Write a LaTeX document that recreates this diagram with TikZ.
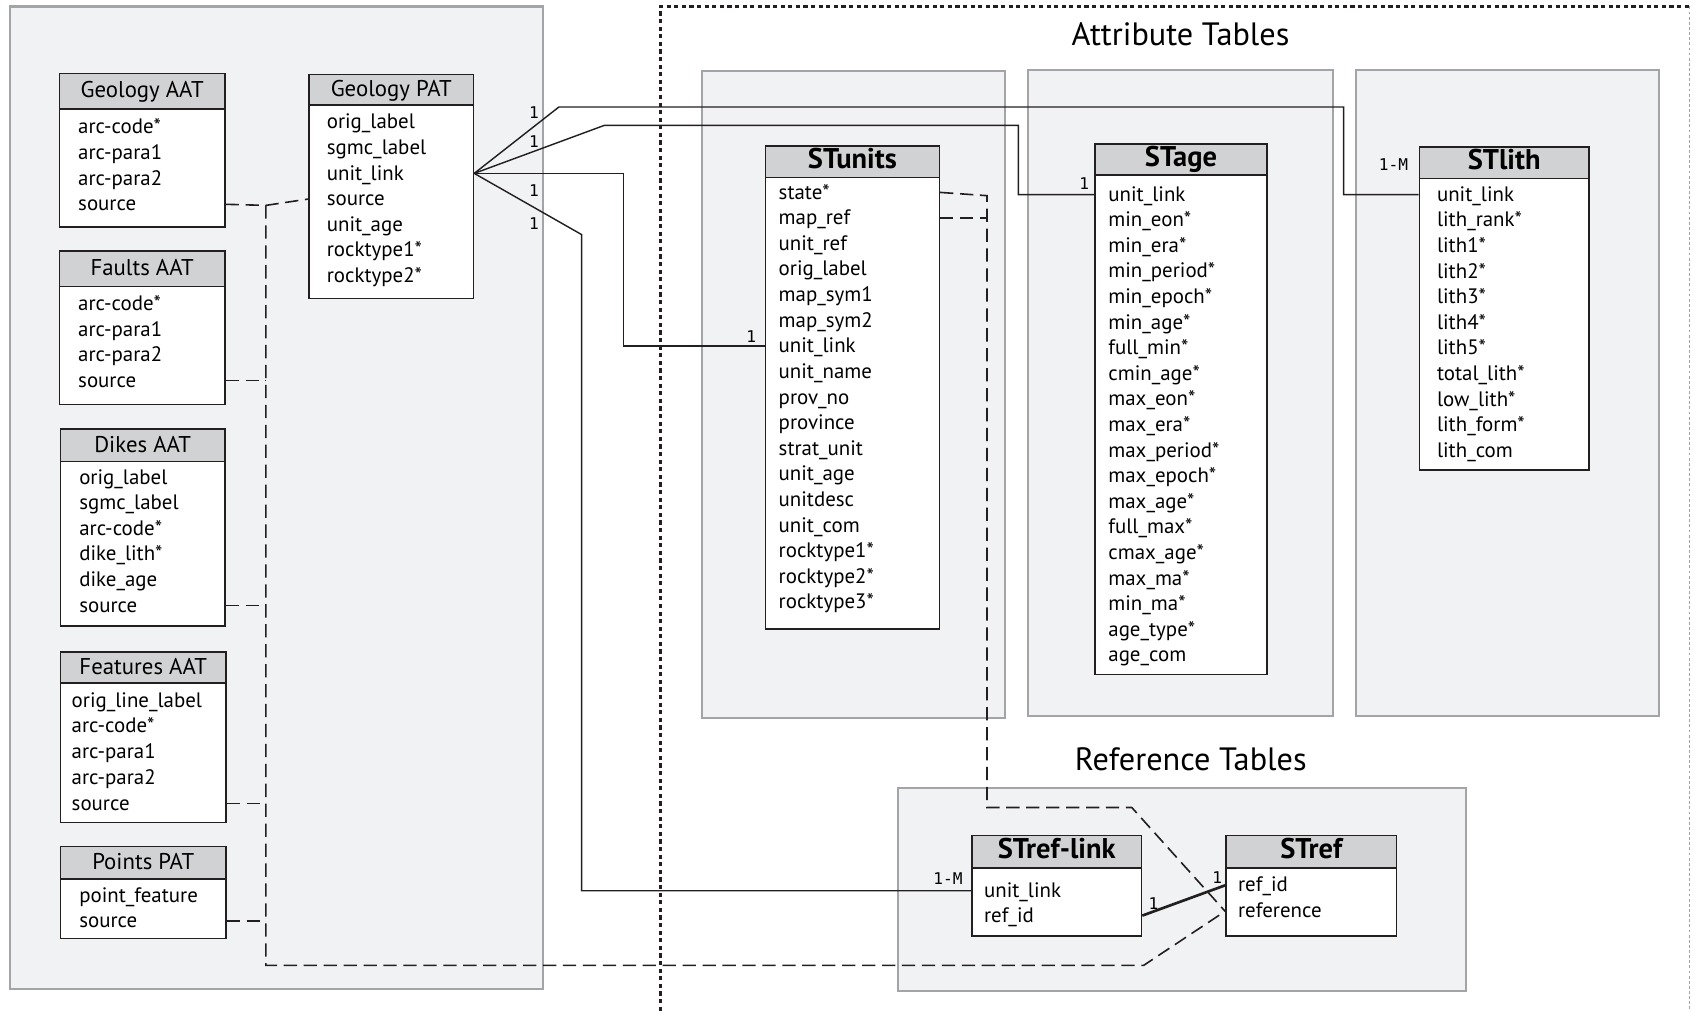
\documentclass[tikz,border=0pt]{standalone}
\usepackage{fontspec}
\setmainfont{PT Sans}
\newfontfamily\cardfont{DejaVu Sans Mono}
\usetikzlibrary{positioning,fit}
\definecolor{panelfill}{RGB}{241,242,244}
\definecolor{panelline}{RGB}{163,164,167}
\definecolor{headfill}{RGB}{209,210,212}
\definecolor{tabline}{RGB}{35,31,32}

\begin{document}
\begin{tikzpicture}[x=0.02cm,y=-0.02cm,
	panel/.style={draw=panelline,fill=panelfill,line width=1.1pt,inner sep=0pt},
	head/.style={draw=tabline,fill=headfill,line width=0.8pt,inner sep=0pt},
	hname/.style={inner sep=0pt,text height=0.7em,text depth=0pt,font=\fontsize{12}{14}\selectfont},
	bname/.style={hname,font=\fontsize{15}{17}\bfseries},
	body/.style={draw=tabline,fill=white,line width=0.8pt,inner sep=0pt},
	field/.style={anchor=west,inner sep=0pt,text height=1.6ex,text depth=.2ex,font=\fontsize{11}{13}\selectfont},
	card/.style={inner sep=0pt,font=\cardfont\fontsize{8.5}{10}\selectfont},
	link/.style={draw=tabline,line width=0.75pt},
	fkey/.style={link,line width=0.85pt,dash pattern=on 7pt off 3.5pt},
	frame/.style={draw=tabline,line width=1.1pt,dash pattern=on 2.2pt off 1.8pt},
	title/.style={inner sep=0pt,font=\fontsize{17}{20}\selectfont}]
	\useasboundingbox (0,0) rectangle (1568,935);

	% panels
	\node[panel,fit={(9,6) (502,915)}] (arcp) {};
	\node[panel,fit={(649,66) (930,664)}] (unitsp) {};
	\node[panel,fit={(951,65) (1233,662)}] (agep) {};
	\node[panel,fit={(1254,65) (1535,662)}] (lithp) {};
	\node[panel,fit={(831,729) (1356,917)}] (refp) {};
	\node[title,above=0.43cm of agep] (attrt) {Attribute Tables};
	\node[title,above=0.29cm of refp,xshift=0.16cm] (reft) {Reference Tables};

	\draw[frame] (611,935) -- (611,6) -- (1563,6);
	\draw[draw=panelline,line width=0.6pt,dash pattern=on 1.5pt off 1.2pt] (1563,6) -- (1563,935);

	% arc/point tables
	\node[head,fit={(55,68) (208,101)},label={[hname]center:Geology AAT}] (gaat) {};
	\node[body,fit={(55,101) (208,210)}] (gaat-b) {};
	\foreach \f [count=\i] in {arc-code*,arc-para1,arc-para2,source}
		\node[field] (gaat-\i) at (72,{117+24*(\i-1)}) {\f};

	\node[head,fit={(286,69) (438,97)},label={[hname]center:Geology PAT}] (gpat) {};
	\node[body,fit={(286,97) (438,276)}] (gpat-b) {};
	\foreach \f [count=\i] in {orig\_label,sgmc\_label,unit\_link,source,unit\_age,rocktype1*,rocktype2*}
		\node[field] (gpat-\i) at (302,{113+23.7*(\i-1)}) {\f};

	\node[head,fit={(55,232) (208,265)},label={[hname]center:Faults AAT}] (faat) {};
	\node[body,fit={(55,265) (208,374)}] (faat-b) {};
	\foreach \f [count=\i] in {arc-code*,arc-para1,arc-para2,source}
		\node[field] (faat-\i) at (72,{281+23.7*(\i-1)}) {\f};

	\node[head,fit={(56,397) (208,427)},label={[hname]center:Dikes AAT}] (daat) {};
	\node[body,fit={(56,427) (208,579)}] (daat-b) {};
	\foreach \f [count=\i] in {orig\_label,sgmc\_label,arc-code*,dike\_lith*,dike\_age,source}
		\node[field] (daat-\i) at (73,{442+23.6*(\i-1)}) {\f};

	\node[head,fit={(56,603) (209,632)},label={[hname]center:Features AAT}] (feat) {};
	\node[body,fit={(56,632) (209,761)}] (feat-b) {};
	\foreach \f [count=\i] in {orig\_line\_label,arc-code*,arc-para1,arc-para2,source}
		\node[field] (feat-\i) at (66,{648+23.8*(\i-1)}) {\f};

	\node[head,fit={(56,783) (209,813)},label={[hname]center:Points PAT}] (ppat) {};
	\node[body,fit={(56,813) (209,868)}] (ppat-b) {};
	\foreach \f [count=\i] in {point\_feature,source}
		\node[field] (ppat-\i) at (73,{829+23*(\i-1)}) {\f};

	% attribute tables
	\node[head,fit={(708,135) (869,164)},label={[bname]center:STunits}] (stunits) {};
	\node[body,fit={(708,164) (869,582)}] (stunits-b) {};
	\foreach \f [count=\i] in {state*,map\_ref,unit\_ref,orig\_label,map\_sym1,map\_sym2,unit\_link,unit\_name,prov\_no,province,strat\_unit,unit\_age,unitdesc,unit\_com,rocktype1*,rocktype2*,rocktype3*}
		\node[field] (stunits-\i) at (720,{178+23.7*(\i-1)}) {\f};

	\node[head,fit={(1013,133) (1172,162)},label={[bname]center:STage}] (stage) {};
	\node[body,fit={(1013,162) (1172,624)}] (stage-b) {};
	\foreach \f [count=\i] in {unit\_link,min\_eon*,min\_era*,min\_period*,min\_epoch*,min\_age*,full\_min*,cmin\_age*,max\_eon*,max\_era*,max\_period*,max\_epoch*,max\_age*,full\_max*,cmax\_age*,max\_ma*,min\_ma*,age\_type*,age\_com}
		\node[field] (stage-\i) at (1025,{180+23.67*(\i-1)}) {\f};

	\node[head,fit={(1313,136) (1470,165)},label={[bname]center:STlith}] (stlith) {};
	\node[body,fit={(1313,165) (1470,435)}] (stlith-b) {};
	\foreach \f [count=\i] in {unit\_link,lith\_rank*,lith1*,lith2*,lith3*,lith4*,lith5*,total\_lith*,low\_lith*,lith\_form*,lith\_com}
		\node[field] (stlith-\i) at (1329,{180+23.7*(\i-1)}) {\f};

	% reference tables
	\node[head,fit={(899,773) (1056,803)},label={[bname]center:STref-link}] (strl) {};
	\node[body,fit={(899,803) (1056,866)}] (strl-b) {};
	\foreach \f [count=\i] in {unit\_link,ref\_id}
		\node[field] (strl-\i) at (910,{824+23*(\i-1)}) {\f};

	\node[head,fit={(1134,773) (1292,803)},label={[bname]center:STref}] (stref) {};
	\node[body,fit={(1134,803) (1292,866)}] (stref-b) {};
	\foreach \f [count=\i] in {ref\_id,reference}
		\node[field] (stref-\i) at (1145,{819+24*(\i-1)}) {\f};

	% keys
	\coordinate (fan) at (gpat-b.east |- gpat-3);
	\draw[link] (fan) -- (517,99) -- (1243,99) |- (stlith-b.west |- stlith-1);
	\draw[link] (fan) -- (559,116) -- (942,116) |- (stage-b.west |- stage-1);
	\draw[link] (fan) -- ++(138,0) |- (stunits-b.west |- stunits-7);
	\draw[link] (fan) -- (538,217) |- (strl-b.west |- strl-1);
	\draw[link,line width=1.4pt] (strl-b.east |- strl-2) -- (stref-b.west |- stref-1);

	\coordinate (trunk) at (246,190);
	\draw[fkey] (gaat-b.east |- gaat-4) -- (trunk) -- (gpat-b.west |- gpat-4);
	\draw[fkey] (trunk) -- (246,893) -- (1058,893) -- (stref-b.west |- stref-2);
	\foreach \t/\r in {faat/4,daat/6,feat/5,ppat/2}
		\draw[fkey] (\t-b.east |- \t-\r) -- (trunk |- \t-\r);

	\coordinate (drop) at (913,181);
	\draw[fkey] (stunits-b.east |- stunits-1) -- (drop) -- (913,747) -- (1047,747) -- (stref-b.west |- stref-2);
	\draw[fkey] (stunits-b.east |- stunits-2) -- (drop |- stunits-2);

	% cardinality
	\node[card] (pat-lith) at (494,104) {1};
	\node[card] (pat-age) at (494,131) {1};
	\node[card] (pat-units) at (494,176) {1};
	\node[card] (pat-rl) at (494,207) {1};
	\node[card] (units-in) at (695,311) {1};
	\node[card] (age-in) at (1003,170) {1};
	\node[card] (lith-in) at (1289,152) {1-M};
	\node[card] (rl-in) at (877,813) {1-M};
	\node[card] (rl-out) at (1067,836) {1};
	\node[card] (ref-in) at (1126,812) {1};
\end{tikzpicture}
\end{document}
